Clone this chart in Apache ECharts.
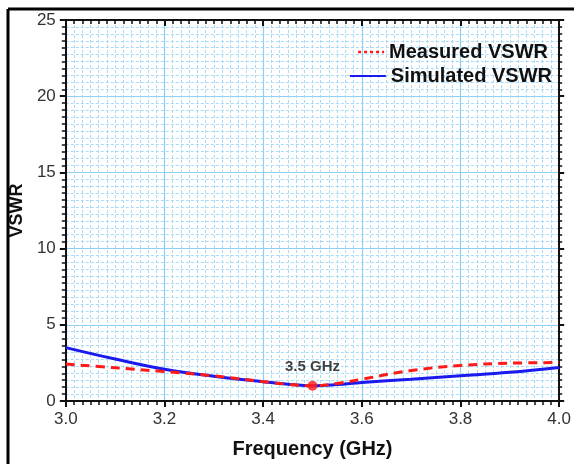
<!DOCTYPE html>
<html>
<head>
<meta charset="utf-8">
<script src="https://cdn.jsdelivr.net/npm/echarts@6/dist/echarts.min.js"></script>
<style>
  html, body { margin: 0; padding: 0; background: #fff; }
  #chart { width: 574px; height: 464px; }
</style>
</head>
<body>
<div id="chart"></div>
<script>
// frequency axis (GHz)
const freqs = [3.0, 3.1, 3.2, 3.3, 3.4, 3.45, 3.5, 3.55, 3.6, 3.7, 3.8, 3.9, 4.0];
const measured = [2.42, 2.18, 1.93, 1.65, 1.27, 1.1, 1.0, 1.15, 1.43, 2.0, 2.33, 2.48, 2.52];
const simulated = [3.5, 2.75, 2.08, 1.62, 1.26, 1.1, 1.0, 1.08, 1.22, 1.43, 1.65, 1.88, 2.2];
const resonance = [[3.5, 1.0]];
const xTicks = [3.0, 3.2, 3.4, 3.6, 3.8, 4.0];
const yTicks = [0, 5, 10, 15, 20, 25];

const chart = echarts.init(document.getElementById('chart'));

const font = 'Liberation Sans';
const axisLine = { show: true, onZero: false, lineStyle: { color: '#111', width: 2 } };
const majorGrid = { show: true, lineStyle: { color: '#8ecff3', width: 1.2 } };
const minorGrid = { show: true, lineStyle: { color: '#a9dbf8', width: 1, type: [3, 2] } };
const legendText = { fontFamily: font, fontWeight: 'bold', fontSize: 20, color: '#111' };

chart.setOption({
  backgroundColor: '#fff',
  animation: false,
  grid: { left: 64, right: 14, top: 20, bottom: 63 },
  legend: [
    {
      data: [{ name: 'Measured VSWR', itemStyle: { opacity: 0 }, lineStyle: { type: [3, 3], width: 2.5 } }],
      right: 26, top: 42, padding: 0,
      itemWidth: 26, itemHeight: 12, itemGap: 8,
      textStyle: legendText
    },
    {
      data: [{ name: 'Simulated VSWR', itemStyle: { opacity: 0 } }],
      right: 22, top: 66, padding: 0,
      itemWidth: 36, itemHeight: 12, itemGap: 7,
      textStyle: legendText
    }
  ],
  xAxis: [
    {
      type: 'value', min: 3.0, max: 4.0, interval: 0.2,
      name: 'Frequency (GHz)', nameLocation: 'middle', nameGap: 38,
      nameTextStyle: { fontFamily: font, fontWeight: 'bold', fontSize: 20, color: '#111' },
      axisLine: axisLine,
      axisTick: { show: true, inside: false, length: 6, lineStyle: { color: '#111', width: 2 } },
      minorTick: { show: true, splitNumber: 12, length: 4, lineStyle: { color: '#111', width: 1.5 } },
      axisLabel: {
        fontFamily: font, fontSize: 17, color: '#333', margin: 10,
        formatter: v => (xTicks.some(t => Math.abs(t - v) < 1e-6) ? v.toFixed(1) : '')
      },
      splitLine: majorGrid,
      minorSplitLine: minorGrid
    },
    {
      type: 'value', position: 'top', min: 3.0, max: 4.0, interval: 0.2,
      axisLine: axisLine,
      axisTick: { show: true, inside: true, length: 6, lineStyle: { color: '#111', width: 2 } },
      minorTick: { show: true, splitNumber: 12, length: 4, lineStyle: { color: '#111', width: 1.5 } },
      axisLabel: { show: false },
      splitLine: { show: false }
    }
  ],
  yAxis: [
    {
      type: 'value', min: 0, max: 25, interval: 5,
      name: 'VSWR', nameLocation: 'middle', nameGap: 38,
      nameTextStyle: { fontFamily: font, fontWeight: 'bold', fontSize: 18, color: '#111' },
      axisLine: axisLine,
      axisTick: { show: true, inside: false, length: 6, lineStyle: { color: '#111', width: 2 } },
      minorTick: { show: true, splitNumber: 11, length: 4, lineStyle: { color: '#111', width: 1.5 } },
      axisLabel: {
        fontFamily: font, fontSize: 17, color: '#333', margin: 10,
        formatter: v => (yTicks.includes(v) ? String(v) : '')
      },
      splitLine: majorGrid,
      minorSplitLine: minorGrid
    },
    {
      type: 'value', position: 'right', min: 0, max: 25, interval: 5,
      axisLine: axisLine,
      axisTick: { show: true, inside: false, length: 5, lineStyle: { color: '#111', width: 2 } },
      minorTick: { show: true, splitNumber: 11, length: 3, lineStyle: { color: '#111', width: 1.5 } },
      axisLabel: { show: false },
      splitLine: { show: false }
    }
  ],
  series: [
    {
      name: 'Measured VSWR', type: 'line', smooth: 0.4, symbol: 'none', z: 3,
      data: freqs.map((f, i) => [f, measured[i]]),
      itemStyle: { color: '#ff1a1a' },
      lineStyle: { color: '#ff1a1a', width: 3, type: [9, 6] }
    },
    {
      name: 'Simulated VSWR', type: 'line', smooth: 0.4, symbol: 'none', z: 2,
      data: freqs.map((f, i) => [f, simulated[i]]),
      itemStyle: { color: '#1a1aee' },
      lineStyle: { color: '#1a1aee', width: 3 }
    },
    {
      name: 'resonance', type: 'scatter', symbolSize: 10, z: 5,
      data: resonance,
      itemStyle: { color: '#ff1a1a' },
      label: {
        show: true, position: 'top', distance: 6,
        formatter: '3.5 GHz',
        fontFamily: font, fontWeight: 'bold', fontSize: 15, color: '#111'
      }
    }
  ],
  graphic: [
    { type: 'line', shape: { x1: 8, y1: 9, x2: 574, y2: 9 }, style: { stroke: '#000', lineWidth: 3 } },
    { type: 'line', shape: { x1: 8, y1: 9, x2: 8, y2: 464 }, style: { stroke: '#000', lineWidth: 3 } }
  ]
});
</script>
</body>
</html>
